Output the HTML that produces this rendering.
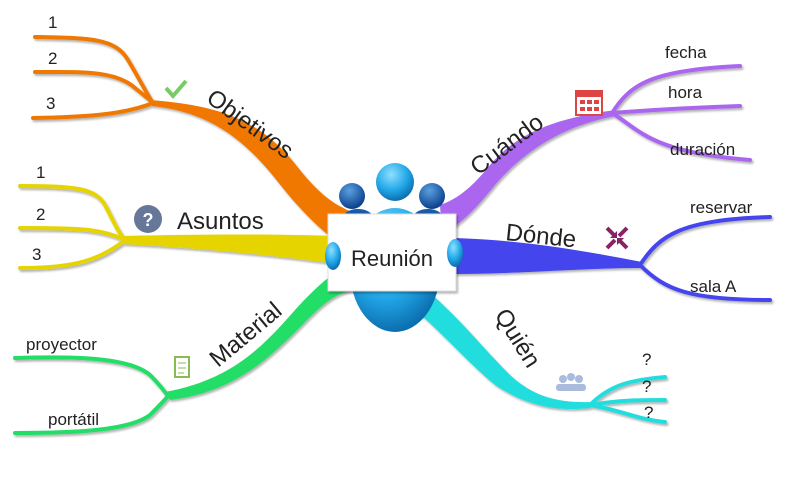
<!DOCTYPE html>
<html><head><meta charset="utf-8"><style>
body{margin:0;background:#fff;width:800px;height:479px;overflow:hidden}
svg text{font-family:"Liberation Sans",sans-serif;fill:#222}
</style></head><body>
<svg width="800" height="479" viewBox="0 0 800 479" xmlns="http://www.w3.org/2000/svg">
<defs>
<filter id="sh" x="-10%" y="-10%" width="130%" height="130%"><feDropShadow dx="1.5" dy="2" stdDeviation="1" flood-color="#000" flood-opacity="0.3"/></filter>
<radialGradient id="bl" cx="40%" cy="30%" r="70%"><stop offset="0" stop-color="#8fe0ff"/><stop offset="0.6" stop-color="#22a8e8"/><stop offset="1" stop-color="#0c6fb0"/></radialGradient>
<radialGradient id="db" cx="40%" cy="30%" r="70%"><stop offset="0" stop-color="#5aa0e0"/><stop offset="1" stop-color="#0a3f8a"/></radialGradient>
</defs>
<g filter="url(#sh)" fill="none" stroke-linecap="round">
<g stroke="#f07800" stroke-width="4">
<path d="M35,37 C90,38 115,38 128,60 C140,80 148,96 153,103"/>
<path d="M35,72 C80,72 115,70 135,88 C145,96 150,100 153,103"/>
<path d="M33,118 C90,117 125,114 153,103"/>
</g>
<path fill="#f07800" d="M150,100 C230,106 265,125 300,170 C320,195 335,205 352,212 L342,245 C322,232 300,210 278,182 C245,140 210,112 152,106 Z"/>
<g stroke="#e6d400" stroke-width="4">
<path d="M20,186 C75,186 95,188 105,205 C113,220 118,232 125,240"/>
<path d="M20,228 C75,228 100,228 125,240"/>
<path d="M20,268 C75,268 100,260 125,240"/>
</g>
<path fill="#e6d400" d="M122,236 C200,234 280,234 335,236 L335,264 C280,256 200,248 122,244 Z"/>
<g stroke="#22dd66" stroke-width="4">
<path d="M15,358 C80,356 130,358 150,375 C160,385 165,392 168,396"/>
<path d="M15,433 C80,433 130,430 150,415 C160,405 165,400 168,396"/>
</g>
<path fill="#22dd66" d="M165,392 C230,380 260,350 295,310 C315,288 330,275 345,266 L354,290 C335,293 322,305 305,322 C270,358 235,392 170,400 Z"/>
<g stroke="#aa66ee" stroke-width="4">
<path d="M612,113 C630,85 650,70 740,66"/>
<path d="M612,113 C650,110 680,108 740,106"/>
<path d="M612,113 C640,130 650,152 750,160"/>
</g>
<path fill="#aa66ee" d="M615,110 C560,118 520,130 490,165 C470,190 455,200 440,205 L442,234 C460,225 475,210 495,185 C525,150 565,125 616,116 Z"/>
<g stroke="#4444ee" stroke-width="4">
<path d="M640,265 C660,235 680,220 770,217"/>
<path d="M640,265 C665,290 690,300 770,300"/>
</g>
<path fill="#4444ee" d="M455,238 C520,240 580,250 642,262 L640,268 C580,268 520,274 455,274 Z"/>
<g stroke="#22dddd" stroke-width="4">
<path d="M590,405 C610,385 630,380 665,377"/>
<path d="M590,405 C620,400 640,400 665,400"/>
<path d="M590,405 C620,410 640,420 665,422"/>
</g>
<path fill="#22dddd" d="M422,286 C460,318 480,345 510,375 C535,398 560,403 592,402 L590,408 C555,412 525,405 495,385 C465,360 440,330 410,306 Z"/>
</g>
<ellipse cx="352" cy="196" rx="13" ry="13" fill="url(#db)"/>
<ellipse cx="432" cy="196" rx="13" ry="13" fill="url(#db)"/>
<ellipse cx="395" cy="182" rx="19" ry="19" fill="url(#bl)"/>
<ellipse cx="395" cy="270" rx="45" ry="62" fill="url(#bl)"/>
<ellipse cx="358" cy="218" rx="15" ry="9" fill="#1a5aa8"/>
<ellipse cx="428" cy="218" rx="15" ry="9" fill="#1a5aa8"/>
<rect x="328" y="214" width="128" height="77" fill="#fff" stroke="#ddd" filter="url(#sh)"/>
<ellipse cx="333" cy="256" rx="8" ry="14" fill="url(#bl)"/>
<ellipse cx="455" cy="253" rx="8" ry="14" fill="url(#bl)"/>
<text x="392" y="266" font-size="22" text-anchor="middle">Reunión</text>
<g font-size="17">
<text x="48" y="28">1</text><text x="48" y="64">2</text><text x="46" y="109">3</text>
<text x="36" y="178">1</text><text x="36" y="220">2</text><text x="32" y="260">3</text>
<text x="26" y="350">proyector</text><text x="48" y="425">portátil</text>
<text x="665" y="58">fecha</text><text x="668" y="98">hora</text><text x="670" y="155">duración</text>
<text x="690" y="213">reservar</text><text x="690" y="292">sala A</text>
<text x="642" y="365">?</text><text x="642" y="392">?</text><text x="644" y="418">?</text>
</g>
<g font-size="24">
<text transform="translate(205,101) rotate(36)">Objetivos</text>
<text x="177" y="229">Asuntos</text>
<text transform="translate(218,368) rotate(-40)">Material</text>
<text transform="translate(478,176) rotate(-37)">Cuándo</text>
<text transform="translate(505,240) rotate(6)">Dónde</text>
<text transform="translate(494,315) rotate(58)">Quién</text>
</g>
<path d="M166,88 l7,8 l13,-15" stroke="#77cc66" stroke-width="4" fill="none"/>
<circle cx="148" cy="219" r="14" fill="#667799"/><text x="148" y="226" font-size="18" text-anchor="middle" font-weight="bold" style="fill:#fff">?</text>
<rect x="576" y="91" width="26" height="24" fill="#fff" stroke="#dd4444" stroke-width="2"/><rect x="576" y="91" width="26" height="6" fill="#dd4444"/>
<g fill="#dd4444"><rect x="580" y="100" width="5" height="4"/><rect x="587" y="100" width="5" height="4"/><rect x="594" y="100" width="5" height="4"/><rect x="580" y="107" width="5" height="4"/><rect x="587" y="107" width="5" height="4"/><rect x="594" y="107" width="5" height="4"/></g>
<g stroke="#882266" stroke-width="4"><path d="M607,228 l8,8 M627,228 l-8,8 M607,248 l8,-8 M627,248 l-8,-8"/></g>
<g fill="#882266"><path d="M617,238 l-7,0 l7,-7 z M617,238 l7,0 l-7,7 z"/></g>
<g fill="#aabbdd"><circle cx="563" cy="379" r="4"/><circle cx="571" cy="377" r="4"/><circle cx="579" cy="379" r="4"/><rect x="556" y="384" width="30" height="7" rx="3"/></g>
<rect x="175" y="357" width="14" height="20" fill="#fff" stroke="#88bb55" stroke-width="2"/><path d="M178,363h8M178,368h8M178,373h6" stroke="#88bb55"/>
</svg>
</body></html>
